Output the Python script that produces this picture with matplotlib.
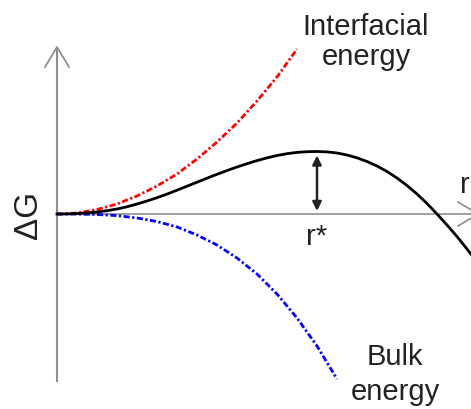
import numpy as np
import matplotlib
matplotlib.use("Agg")
from matplotlib import pyplot as plt

plt.rcParams['font.family'] = ['Liberation Sans', 'DejaVu Sans']

# radius values and energy contributions (arbitrary units)
r_interface = [0.0, 0.2, 0.4, 0.6, 0.8, 1.0, 1.2, 1.4, 1.6, 1.8, 2.0, 2.2, 2.4]
g_interface = [0.0, 0.01, 0.045, 0.10, 0.18, 0.28, 0.40, 0.55, 0.72, 0.91, 1.13, 1.37, 1.65]

r_bulk = [0.0, 0.2, 0.4, 0.6, 0.8, 1.0, 1.2, 1.4, 1.6, 1.8, 2.0, 2.2, 2.4, 2.6, 2.8]
g_bulk = [0.0, -0.001, -0.005, -0.016, -0.04, -0.075, -0.13, -0.21, -0.31, -0.44,
          -0.60, -0.80, -1.04, -1.32, -1.65]

r_total = [0.0, 0.1, 0.2, 0.3, 0.4, 0.5, 0.6, 0.7, 0.8, 0.9, 1.0, 1.1, 1.2, 1.3,
           1.4, 1.5, 1.6, 1.7, 1.8, 1.9, 2.0, 2.1, 2.2, 2.3, 2.4, 2.5, 2.6, 2.7,
           2.8, 2.9, 3.0, 3.1, 3.2, 3.3, 3.4, 3.5, 3.6, 3.7, 3.8, 3.9, 4.0, 4.1, 4.2]
g_total = [0.0, 0.001, 0.005, 0.011, 0.02, 0.033, 0.05, 0.072, 0.10, 0.13, 0.163,
           0.199, 0.238, 0.278, 0.318, 0.358, 0.397, 0.434, 0.47, 0.503, 0.534,
           0.561, 0.585, 0.603, 0.616, 0.623, 0.625, 0.621, 0.61, 0.59, 0.562,
           0.525, 0.48, 0.425, 0.36, 0.285, 0.20, 0.105, 0.0, -0.11, -0.225,
           -0.35, -0.48]

fig = plt.figure(figsize=(4.71, 4.10), dpi=100)
ax = fig.add_axes([0, 0, 1, 1])
ax.set_xlim(-0.57, 4.14)
ax.set_ylim(-1.95, 2.15)
ax.axis('off')

# axes drawn as plain lines with open arrow heads
axis_col = '#8f8f8f'
ax.plot([0, 0], [-1.68, 1.67], color=axis_col, lw=1.5, solid_capstyle='butt')
ax.plot([-0.12, 0, 0.12], [1.47, 1.67, 1.47], color=axis_col, lw=1.3)
ax.plot([0, 4.21], [0, 0], color=axis_col, lw=1.2)
ax.plot([4.01, 4.21, 4.01], [0.12, 0, -0.12], color=axis_col, lw=1.2)

ax.plot(r_interface, g_interface, color='#ff0000', lw=2.0,
        linestyle=(0, (2.2, 0.9, 0.8, 0.9)))
ax.plot(r_bulk, g_bulk, color='#0000ff', lw=2.0,
        linestyle=(0, (2.2, 0.9, 0.8, 0.9)))
ax.plot(r_total, g_total, color='black', lw=2.0, solid_joinstyle='round')

# barrier height at the critical radius
i_max = int(np.argmax(g_total))
r_star = r_total[i_max]
g_star = g_total[i_max]
ax.annotate('', xy=(r_star, 0.03), xytext=(r_star, g_star - 0.04),
            arrowprops=dict(arrowstyle='<|-|>', color='#222222', lw=1.8,
                            mutation_scale=13, shrinkA=0, shrinkB=0))

txt = '#222222'
ax.text(-0.29, 0.0, '\u0394G', rotation=90, ha='center', va='center',
        fontsize=24, color=txt)
ax.text(3.09, 1.80, 'Interfacial', ha='center', va='baseline', fontsize=21, color=txt)
ax.text(3.09, 1.50, 'energy', ha='center', va='baseline', fontsize=21, color=txt)
ax.text(3.38, -1.50, 'Bulk', ha='center', va='baseline', fontsize=21, color=txt)
ax.text(3.38, -1.85, 'energy', ha='center', va='baseline', fontsize=21, color=txt)
ax.text(r_star, -0.30, 'r*', ha='center', va='baseline', fontsize=21, color=txt)
ax.text(4.08, 0.22, 'r', ha='center', va='baseline', fontsize=21, color=txt)

fig.savefig('out.png', dpi=100, facecolor='white')
